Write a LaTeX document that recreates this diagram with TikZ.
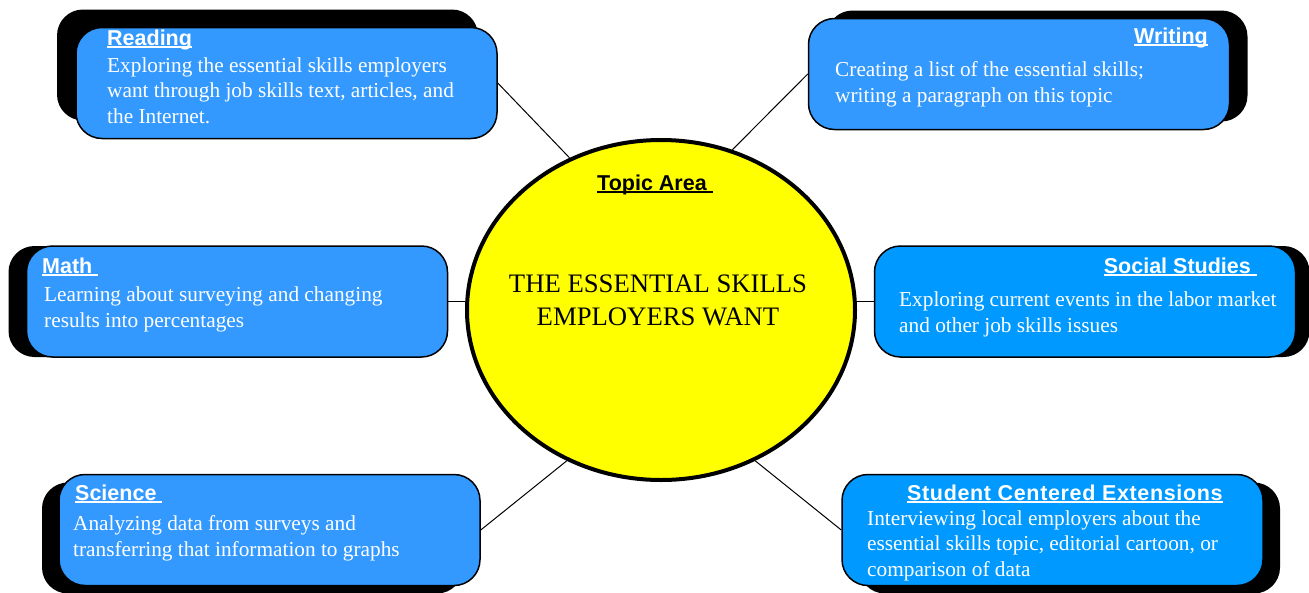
\documentclass[tikz,border=0pt]{standalone}
\usepackage{fontspec}
\setmainfont{Liberation Serif}
\setsansfont{Liberation Sans}
\usetikzlibrary{shapes.geometric,shadows}

\definecolor{skillblue}{HTML}{3399FF}
\definecolor{skillcyan}{HTML}{0099FF}
\definecolor{topicyellow}{RGB}{255,255,0}

% underlined heading, the rule sits just under the baseline
\newcommand{\headul}[1]{\setbox0\hbox{#1}\rlap{\rule[-2.8pt]{\wd0}{1.4pt}}\box0}

\begin{document}
\begin{tikzpicture}[
		x=1pt, y=-1pt,
		line join=round,
		box/.style={draw=black, line width=1.5pt, rounded corners=26pt,
			minimum width=421pt, minimum height=111pt, inner sep=0pt},
		shade/.style 2 args={drop shadow={shadow xshift=#1pt, shadow yshift=#2pt,
			fill=black, opacity=1}},
		title/.style={font=\sffamily\bfseries\fontsize{21.5}{25}\selectfont,
			text=white, anchor=base west, inner sep=0pt},
		% body texts are placed by the baseline of their last line
		body/.style={font=\fontsize{21.3}{25.5}\selectfont, text=white,
			anchor=base west, inner sep=0pt, align=left}
	]

	\useasboundingbox (0,0) rectangle (1309,592);

	% Topic in the middle
	\node[ellipse, draw=black, line width=4pt, fill=topicyellow,
		minimum width=388pt, minimum height=340pt] (topic) at (661,310) {};
	\node[title, text=black] (topic-title) at (597,190) {\headul{Topic Area\ }};
	\node[font=\fontsize{26.7}{33}\selectfont, align=center, anchor=base,
		inner sep=0pt] (topic-text) at (658,325)
		{THE ESSENTIAL SKILLS\\EMPLOYERS WANT};

	% Subject boxes with their shadows
	\node[box, fill=skillblue, shade={-19}{18}] (read) at (286.5,83) {};
	\node[box, fill=skillblue, shade={18}{8}] (write) at (1019,74) {};
	\node[box, fill=skillblue, shade={-18}{0}] (math) at (237,301.5) {};
	\node[box, fill=skillcyan, shade={14}{0}] (social) at (1085,301.5) {};
	\node[box, fill=skillblue, shade={-17}{-8}] (sci) at (269.5,530) {};
	\node[box, fill=skillcyan, shade={17}{-8}] (ext) at (1052.5,530) {};

	% Box texts
	\node[title] (read-title) at (107,45) {\headul{Reading}};
	\node[body] (read-text) at (107,123)
		{Exploring the essential skills employers\\
		want through job skills text, articles, and\\
		the Internet.};

	\node[title, anchor=base east] (write-title) at (1208,43) {\headul{Writing}};
	\node[body] (write-text) at (835,102)
		{Creating a list of the essential skills;\\
		writing a paragraph on this topic};

	\node[title] (math-title) at (42,273) {\headul{Math\ }};
	\node[body] (math-text) at (44,327)
		{Learning about surveying and changing\\
		results into percentages};

	\node[title, anchor=base east] (social-title) at (1257,273) {\headul{Social Studies\ }};
	\node[body] (social-text) at (899,332)
		{Exploring current events in the labor market\\
		and other job skills issues};

	\node[title] (sci-title) at (75,500) {\headul{Science\ }};
	\node[body] (sci-text) at (73,556)
		{Analyzing data from surveys and\\
		transferring that information to graphs};

	\node[title] (ext-title) at (907,500)
		{\addfontfeatures{LetterSpace=3}\headul{Student Centered Extensions}};
	\node[body] (ext-text) at (867,576)
		{Interviewing local employers about the\\
		essential skills topic, editorial cartoon, or\\
		comparison of data};

	% Connectors
	\draw[line width=1pt] (read.east) -- (topic.121);
	\draw[line width=1pt] (write.west) -- (topic.66);
	\draw[line width=1pt] (math.east) -- (math.east -| topic.west);
	\draw[line width=1pt] (social.west) -- (social.west -| topic.east);
	\draw[line width=1pt] (sci.east) -- (topic.238);
	\draw[line width=1pt] (ext.west) -- (topic.302);

\end{tikzpicture}
\end{document}
